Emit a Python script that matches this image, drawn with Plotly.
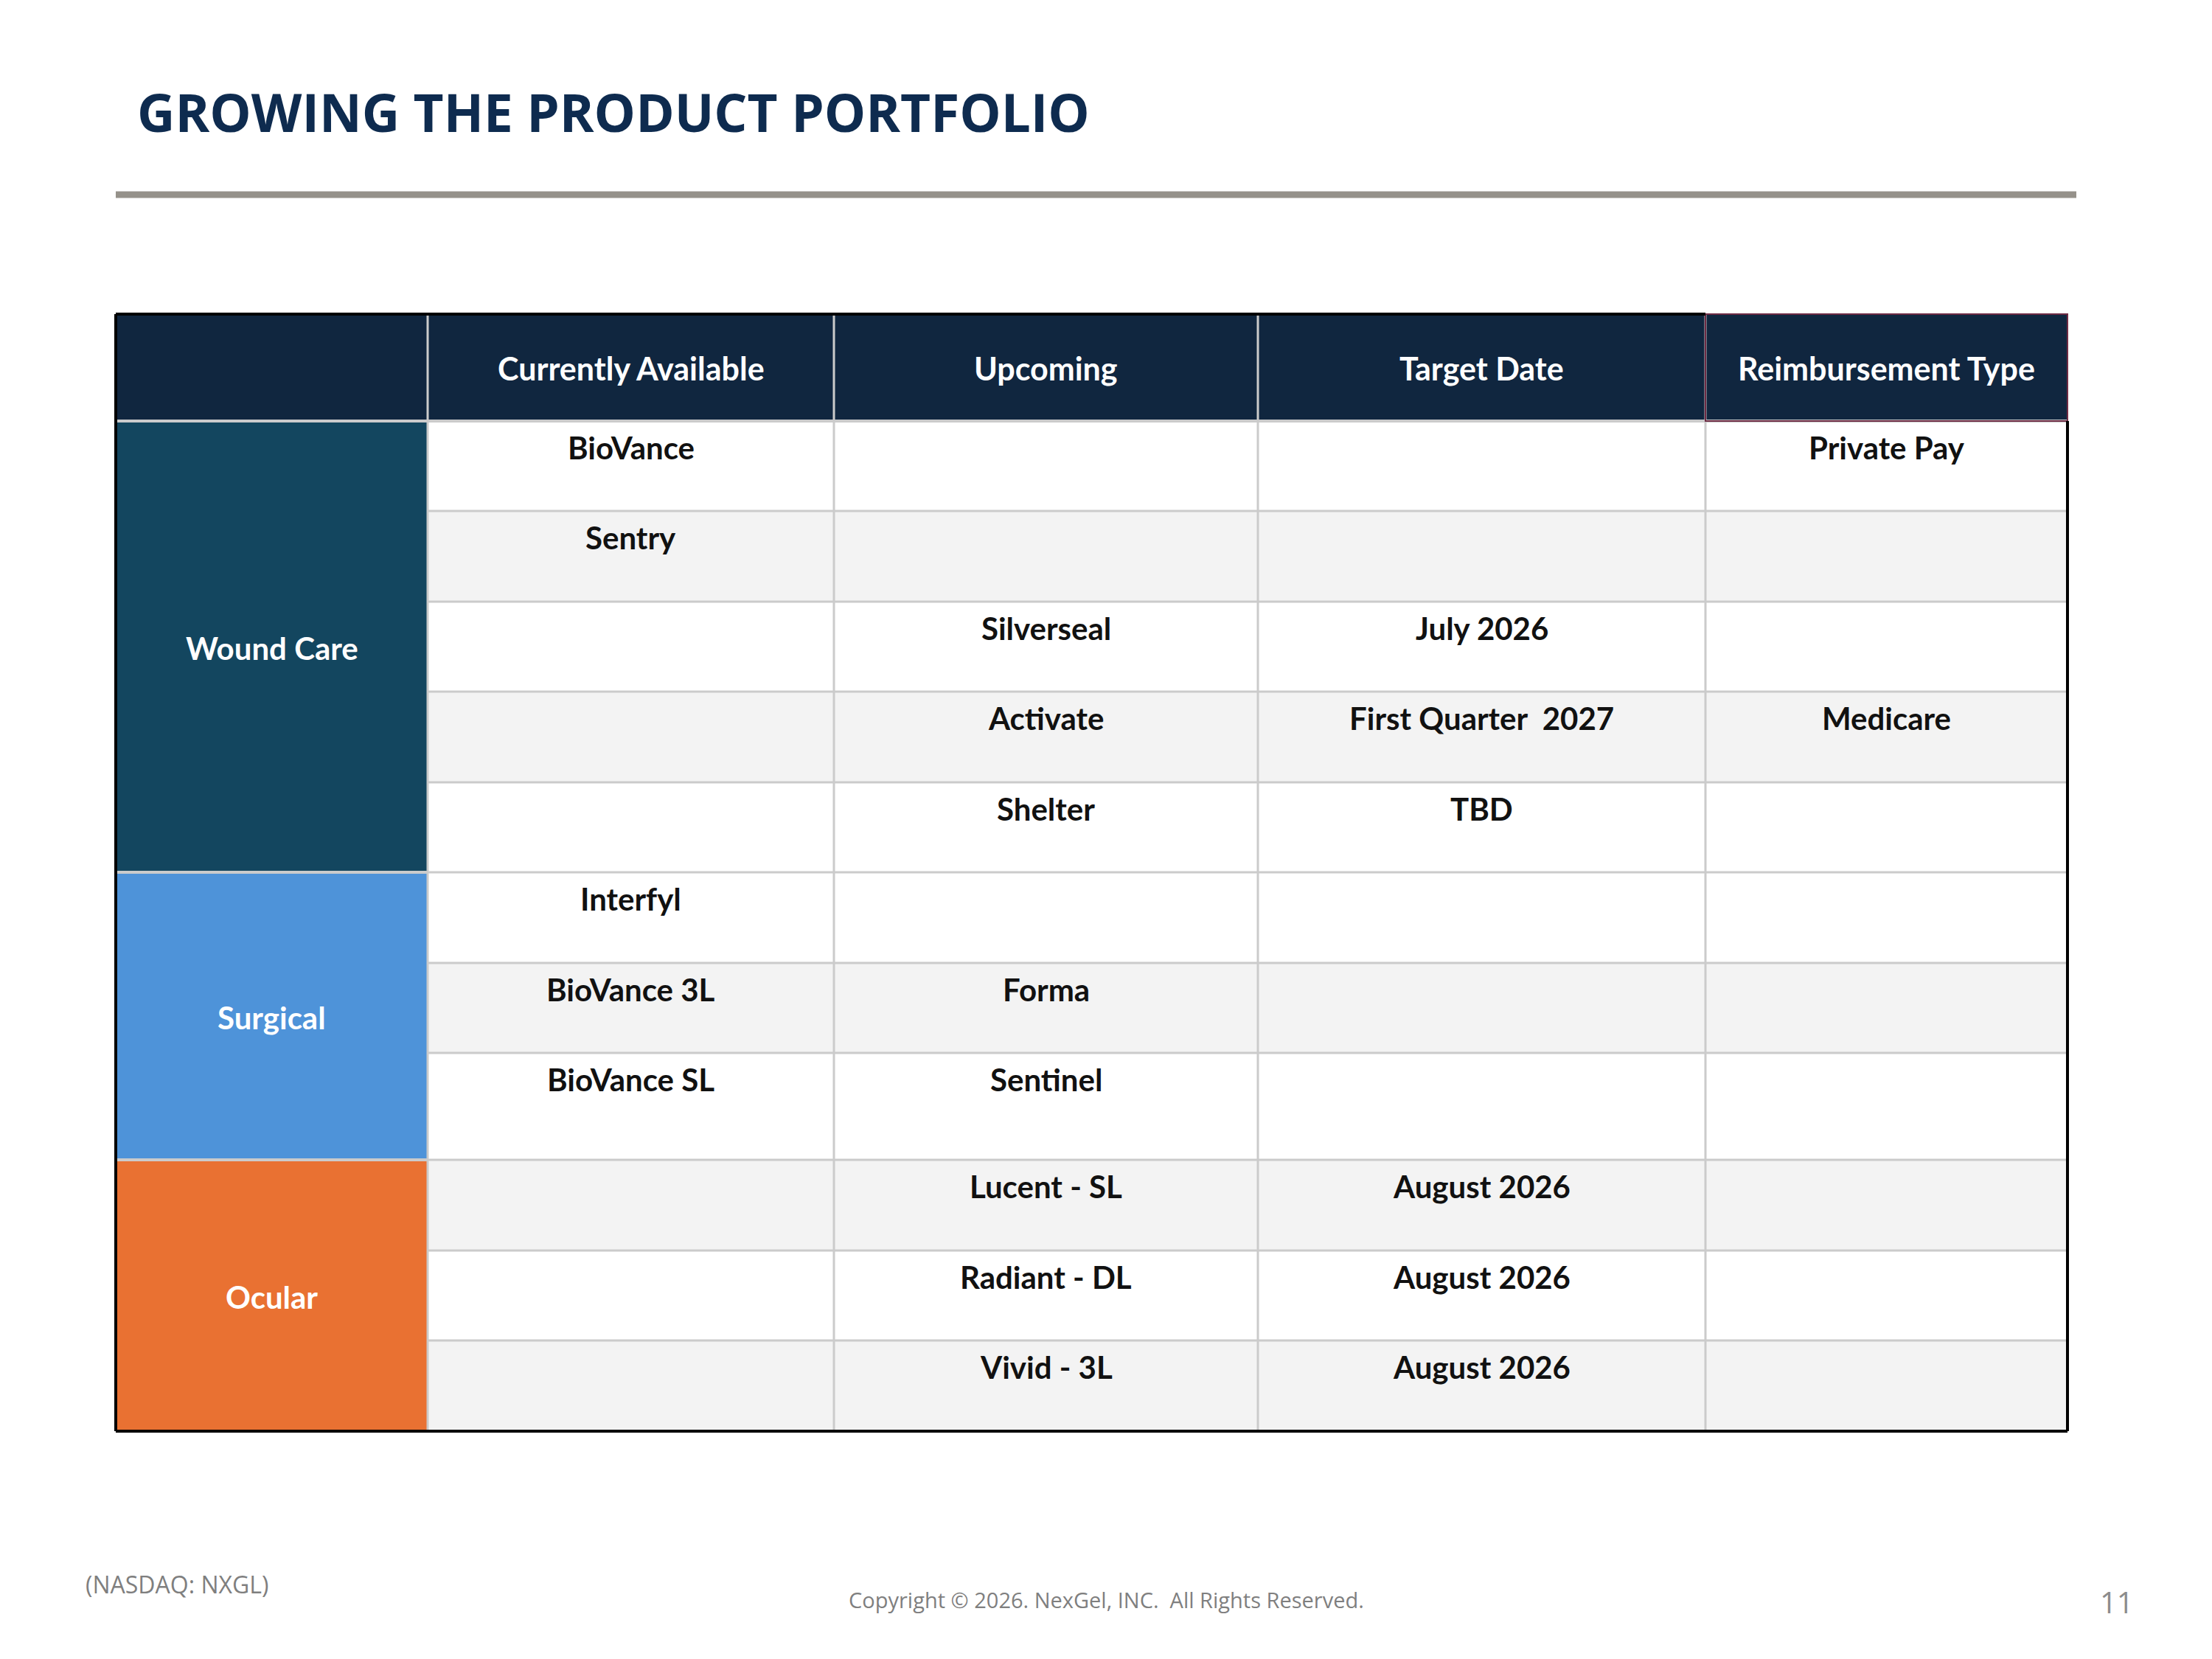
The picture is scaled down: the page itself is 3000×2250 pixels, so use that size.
import plotly.graph_objects as go

# ---------------- data ----------------
title_text = "GROWING THE PRODUCT PORTFOLIO"
headers = ["", "Currently Available", "Upcoming", "Target Date", "Reimbursement Type"]
categories = ["Wound Care", "Surgical", "Ocular"]
category_row_counts = [5, 3, 3]
currently_available = ["BioVance", "Sentry", "", "", "", "Interfyl", "BioVance 3L", "BioVance SL", "", "", ""]
upcoming = ["", "", "Silverseal", "Activate", "Shelter", "", "Forma", "Sentinel", "Lucent - SL", "Radiant - DL", "Vivid - 3L"]
target_date = ["", "", "July 2026", "First Quarter\u00a0 2027", "TBD", "", "", "", "August 2026", "August 2026", "August 2026"]
reimbursement = ["Private Pay", "", "", "Medicare", "", "", "", "", "", "", ""]
footer_left = "(NASDAQ: NXGL)"
footer_center = "Copyright \u00a9 2026. NexGel, INC.\u00a0 All Rights Reserved."
page_number = "11"

# ---------------- layout / style ----------------
W, H = 3000, 2250
col_edges = [149, 572, 1123, 1698, 2305, 2796]
header_top, header_bottom = 418, 563
row_heights = [122, 123, 122, 123, 122, 123, 122, 145, 123, 122, 123]
row_shaded = [0, 1, 0, 1, 0, 0, 1, 0, 1, 0, 1]
cat_colors = ["#13465F", "#4E93D9", "#E97132"]
header_color = "#10263F"
shade_color = "#F3F3F3"
grid_color = "#CBCBCB"
text_font = "Lato"

row_edges = [header_bottom]
for h in row_heights:
    row_edges.append(row_edges[-1] + h)

shapes = []
annotations = []

def rect(x0, y0, x1, y1, fill, line_color=None, line_width=0):
    shapes.append(dict(type="rect", xref="x", yref="y", x0=x0, y0=y0, x1=x1, y1=y1,
                       fillcolor=fill, line=dict(color=line_color or fill, width=line_width),
                       layer="below"))

def line(x0, y0, x1, y1, color, width):
    shapes.append(dict(type="line", xref="x", yref="y", x0=x0, y0=y0, x1=x1, y1=y1,
                       line=dict(color=color, width=width), layer="above"))

def text(x, y, s, size, color, family=text_font, bold=True, xanchor="center", yanchor="middle"):
    annotations.append(dict(x=x, y=y, xref="x", yref="y", text=(f"<b>{s}</b>" if bold else s),
                            showarrow=False, xanchor=xanchor, yanchor=yanchor,
                            font=dict(family=family, size=size, color=color)))

# header row
rect(col_edges[0], header_top, col_edges[-1], header_bottom, header_color)
for j, h in enumerate(headers):
    if h:
        text((col_edges[j] + col_edges[j + 1]) / 2, (header_top + header_bottom) / 2 + 1, h, 43, "white")

# body row fills
for i, sh in enumerate(row_shaded):
    rect(col_edges[1], row_edges[i], col_edges[-1], row_edges[i + 1], shade_color if sh else "white")

# category blocks
start = 0
for cat, n, c in zip(categories, category_row_counts, cat_colors):
    y0, y1 = row_edges[start], row_edges[start + n]
    rect(col_edges[0], y0, col_edges[1], y1, c)
    text((col_edges[0] + col_edges[1]) / 2, (y0 + y1) / 2 + 2, cat, 42, "white")
    start += n

# body text
columns = [currently_available, upcoming, target_date, reimbursement]
for j, col in enumerate(columns):
    xc = (col_edges[j + 1] + col_edges[j + 2]) / 2
    for i, s in enumerate(col):
        if s:
            text(xc, row_edges[i] + 36, s, 42, "#111111")

# grid lines: horizontal
line(col_edges[0], header_bottom, col_edges[-1], header_bottom, grid_color, 4)
for i in range(1, len(row_heights)):
    line(col_edges[1], row_edges[i], col_edges[-1], row_edges[i], grid_color, 3)
start = 0
for n in category_row_counts[:-1]:
    start += n
    line(col_edges[0], row_edges[start], col_edges[1], row_edges[start], grid_color, 4)
# grid lines: vertical
for x in col_edges[1:-1]:
    line(x, header_top, x, row_edges[-1], grid_color, 3)

# header last cell border
shapes.append(dict(type="rect", xref="x", yref="y", x0=col_edges[4], y0=header_top,
                   x1=col_edges[5], y1=header_bottom, line=dict(color="#6E2B44", width=2),
                   fillcolor="rgba(0,0,0,0)", layer="above"))

# outer border
line(col_edges[0], header_top, col_edges[4], header_top, "black", 4)
line(col_edges[0], header_top, col_edges[0], row_edges[-1], "black", 4)
line(col_edges[-1], header_bottom, col_edges[-1], row_edges[-1], "black", 4)
line(col_edges[0], row_edges[-1], col_edges[-1], row_edges[-1], "black", 4)

# title and rule
text(176, 143, title_text, 71, "#0E2B4F", family="Open Sans", xanchor="left")
line(149, 256, 2808, 256, "#95918A", 9)

# footer
text(106, 2140, footer_left, 32, "#7F7F7F", family="Open Sans", bold=False, xanchor="left")
text(1492, 2161, footer_center, 29, "#7F7F7F", family="Open Sans", bold=False)
text(2888, 2164, page_number, 40, "#8C8C8C", family="Open Sans", bold=False, xanchor="right")

fig = go.Figure()
fig.add_trace(go.Scatter(x=[0, W], y=[0, H], mode="markers", marker=dict(opacity=0),
                         hoverinfo="skip", showlegend=False))
fig.update_layout(
    width=W, height=H, margin=dict(l=0, r=0, t=0, b=0),
    paper_bgcolor="white", plot_bgcolor="white",
    xaxis=dict(range=[0, W], visible=False, fixedrange=True),
    yaxis=dict(range=[H, 0], visible=False, fixedrange=True),
    shapes=shapes, annotations=annotations, showlegend=False,
)
fig.write_html("out.html")
